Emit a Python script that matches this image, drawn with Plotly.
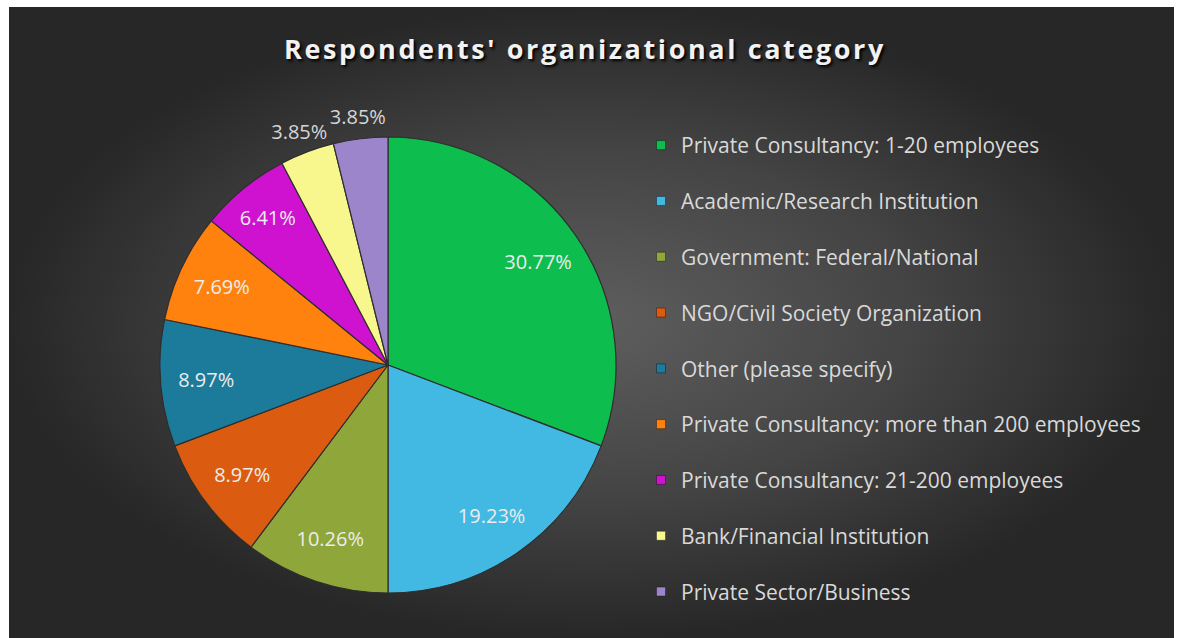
import plotly.graph_objects as go

# Survey breakdown of respondents by organizational category (percent of respondents)
categories = [
    "Private Consultancy: 1-20 employees",
    "Academic/Research Institution",
    "Government: Federal/National",
    "NGO/Civil Society Organization",
    "Other (please specify)",
    "Private Consultancy: more than 200 employees",
    "Private Consultancy: 21-200 employees",
    "Bank/Financial Institution",
    "Private Sector/Business",
]
shares = [30.77, 19.23, 10.26, 8.97, 8.97, 7.69, 6.41, 3.85, 3.85]
colors = ["#0DBE4E", "#41B9E2", "#8FA63A", "#DB5C10", "#1C7A9A",
          "#FF820F", "#CF12CF", "#F7F78E", "#9C85CA"]
# the two thinnest slices get their labels just outside the rim
outer_label = [False] * 7 + [True] * 2

W, H = 1180, 638
FONT = "Open Sans"
LABEL = "%{value:.2f}%"

fig = go.Figure()

# dark panel with a soft radial glow behind the chart
fig.add_trace(go.Scatter(
    x=[9, 1174, 1174, 9, 9], y=[0, 0, 631, 631, 0],
    mode="lines", line=dict(width=0), fill="toself",
    fillgradient=dict(type="radial",
                      colorscale=[[0, "#5e5e5e"], [0.55, "#444444"], [1, "#272727"]]),
    hoverinfo="skip", showlegend=False,
))

# legend entries, one group each so they can be spaced out
for name, col in zip(categories, colors):
    fig.add_trace(go.Scatter(
        x=[None], y=[None], mode="markers", name=name, legendgroup=name,
        marker=dict(symbol="square", size=9, color=col,
                    line=dict(color="rgba(0,0,0,0.35)", width=1)),
        hoverinfo="skip",
    ))


def pie_domain(cx, cy, r):
    return dict(x=[(cx - r) / W, (cx + r) / W],
                y=[max(0.0, (H - cy - r) / H), min(1.0, (H - cy + r) / H)])


cx, cy, R = 388, 365, 228
R_OUT = 272
clear = ["rgba(0,0,0,0)"] * len(shares)

# the coloured pie itself
fig.add_trace(go.Pie(
    labels=categories, values=shares, sort=False, direction="clockwise",
    rotation=0,
    marker=dict(colors=colors, line=dict(color="#2e2e2e", width=1.2)),
    textinfo="none", domain=pie_domain(cx, cy, R),
    showlegend=False, hoverinfo="label+percent",
))

# transparent ring carrying the percentage labels near the rim
fig.add_trace(go.Pie(
    labels=categories, values=shares, sort=False, direction="clockwise",
    rotation=0, hole=0.6,
    marker=dict(colors=clear, line=dict(width=0)),
    texttemplate=["" if o else LABEL for o in outer_label],
    textposition="inside", insidetextorientation="horizontal",
    insidetextfont=dict(family=FONT, size=20, color="#ececec"),
    domain=pie_domain(cx, cy, R), showlegend=False, hoverinfo="skip",
))

# wider transparent ring for the labels sitting outside the pie
fig.add_trace(go.Pie(
    labels=categories, values=shares, sort=False, direction="clockwise",
    rotation=0, hole=R / R_OUT,
    marker=dict(colors=clear, line=dict(width=0)),
    texttemplate=[LABEL if o else "" for o in outer_label],
    textposition="inside", insidetextorientation="horizontal",
    insidetextfont=dict(family=FONT, size=20, color="#d6d6d6"),
    domain=pie_domain(cx, cy, R_OUT), showlegend=False, hoverinfo="skip",
))

fig.update_layout(
    width=W, height=H,
    margin=dict(l=0, r=0, t=0, b=0),
    paper_bgcolor="white", plot_bgcolor="rgba(0,0,0,0)",
    uniformtext=dict(minsize=20, mode="show"),
    xaxis=dict(range=[0, W], domain=[0, 1], visible=False, fixedrange=True),
    yaxis=dict(range=[0, H], domain=[0, 1], visible=False, fixedrange=True),
    title=dict(text="<b><span style=\"letter-spacing:2.6px\">Respondents' organizational category</span></b>",
               x=585 / W, xanchor="center", y=1 - 50 / H, yanchor="middle",
               font=dict(family=FONT, size=27, color="#f2f2f2",
                         shadow="2px 2px 3px #000000")),
    legend=dict(x=641 / W, xanchor="left", y=1 - 125 / H, yanchor="top",
                bgcolor="rgba(0,0,0,0)", tracegroupgap=25.5,
                font=dict(family=FONT, size=21, color="#d9d9d9")),
    showlegend=True,
)

fig.write_html("out.html")
